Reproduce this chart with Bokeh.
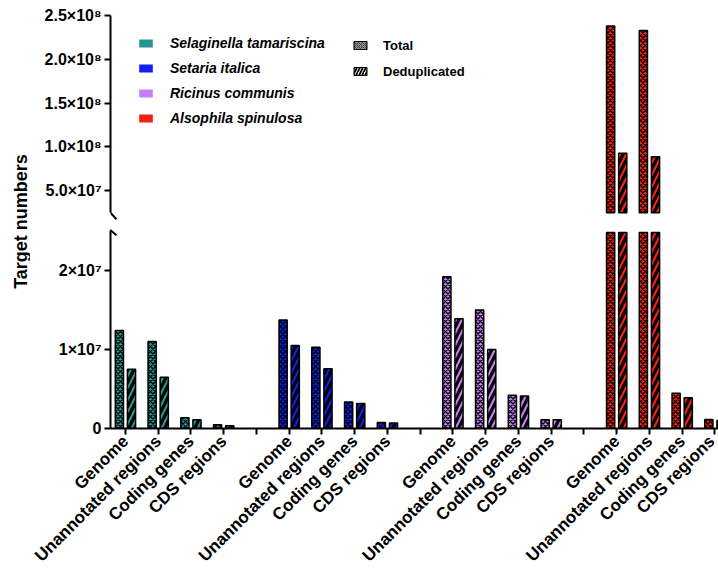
import math
from bokeh.plotting import figure
from bokeh.models import (ColumnDataSource, FixedTicker, Legend, LegendItem, Label,
                          Range1d, CDSView, BooleanFilter)
from bokeh.transform import dodge
from bokeh.layouts import row, column
from bokeh.embed import file_html
from bokeh.resources import INLINE

# ---------------- data ----------------
species = ["Selaginella tamariscina", "Setaria italica", "Ricinus communis", "Alsophila spinulosa"]
regions = ["Genome", "Unannotated regions", "Coding genes", "CDS regions"]
colors = ["#23968e", "#0f1ff0", "#c67ef4", "#f8200f"]

total_selaginella = [1.24e7, 1.10e7, 1.35e6, 4.7e5]
dedup_selaginella = [7.5e6, 6.5e6, 1.1e6, 3.5e5]
total_setaria = [1.375e7, 1.03e7, 3.35e6, 7.5e5]
dedup_setaria = [1.05e7, 7.55e6, 3.15e6, 7.0e5]
total_ricinus = [1.92e7, 1.50e7, 4.2e6, 1.1e6]
dedup_ricinus = [1.39e7, 1.00e7, 4.1e6, 1.1e6]
total_alsophila = [2.38e8, 2.33e8, 4.45e6, 1.15e6]
dedup_alsophila = [9.3e7, 8.9e7, 3.9e6, 1.0e6]

totals = [total_selaginella, total_setaria, total_ricinus, total_alsophila]
dedups = [dedup_selaginella, dedup_setaria, dedup_ricinus, dedup_alsophila]

upper_ticks = [5e7, 1e8, 1.5e8, 2e8, 2.5e8]
upper_tick_labels = ["5.0×10⁷", "1.0×10⁸", "1.5×10⁸", "2.0×10⁸", "2.5×10⁸"]
lower_ticks = [0, 1e7, 2e7]
lower_tick_labels = ["0", "1×10⁷", "2×10⁷"]

pattern_names = ["Total", "Deduplicated"]

# axis-break settings (data units)
upper_break = 2.5e7
upper_axis_top = 2.5e8
lower_break = 2.48e7
lower_axis_top = 2.51e7

# ---------------- geometry ----------------
FONT = "Liberation Sans"
TITLE_W = 30
MAIN_W = 688
BORDER_L = 80
UP_TOP, UP_FRAME = 15, 206
LO_TOP, LO_FRAME, LO_BOT = 3, 204, 150
TOTAL_H = UP_TOP + UP_FRAME + LO_TOP + LO_FRAME + LO_BOT

slot = len(regions) + 1
n_slots = slot * len(species) - 1
xticks = list(range(n_slots))

x_range = Range1d(-0.456, 18.109)
upper_yr = Range1d(1.5e7, 2.5e8)
lower_yr = Range1d(0, 2.5823e7)

px_x = (MAIN_W - BORDER_L) / (x_range.end - x_range.start)
px_up = UP_FRAME / (upper_yr.end - upper_yr.start)
px_lo = LO_FRAME / (lower_yr.end - lower_yr.start)


def base_fig(height, yr, top, bottom, **kw):
    p = figure(width=MAIN_W, height=height, x_range=x_range, y_range=yr,
               output_backend="svg", toolbar_location=None,
               min_border_left=BORDER_L, min_border_right=0,
               min_border_top=top, min_border_bottom=bottom, **kw)
    p.grid.visible = False
    p.outline_line_color = None
    for ax in p.axis:
        ax.axis_line_width = 2
        ax.axis_line_color = "black"
        ax.major_tick_line_width = 2
        ax.major_tick_line_color = "black"
        ax.major_tick_out = 6
        ax.major_tick_in = 0
        ax.minor_tick_line_color = None
        ax.major_label_text_font = FONT
        ax.major_label_text_font_style = "bold"
        ax.major_label_text_font_size = "16px"
        ax.major_label_text_color = "black"
        ax.major_label_standoff = 3
    return p


upper = base_fig(UP_TOP + UP_FRAME, upper_yr, UP_TOP, 0, x_axis_location=None)
lower = base_fig(LO_TOP + LO_FRAME + LO_BOT, lower_yr, LO_TOP, LO_BOT)

upper.yaxis.bounds = (upper_break, upper_axis_top)
upper.yaxis.ticker = FixedTicker(ticks=upper_ticks)
upper.yaxis.major_label_overrides = dict(zip(upper_ticks, upper_tick_labels))

lower.yaxis.bounds = (0, lower_axis_top)
lower.yaxis.ticker = FixedTicker(ticks=lower_ticks)
lower.yaxis.major_label_overrides = dict(zip(lower_ticks, lower_tick_labels))

xlabels = {}
for gi in range(len(species)):
    for ri, reg in enumerate(regions):
        xlabels[gi * slot + ri] = reg
for t in xticks:
    xlabels.setdefault(t, "")
lower.xaxis.ticker = FixedTicker(ticks=xticks)
lower.xaxis.major_label_overrides = xlabels
lower.xaxis.major_label_orientation = math.pi / 4
lower.xaxis.major_label_text_font_size = "17px"
lower.xaxis.major_label_standoff = 4

# ---------------- axis break marks ----------------
S = dict(line_width=2, line_color="black")
dx = 6 / px_x
upper.segment(x0=[x_range.start - dx], y0=[upper_break + 6.5 / px_up],
              x1=[x_range.start + dx], y1=[upper_break - 6.5 / px_up], **S)
lower.segment(x0=[x_range.start - dx], y0=[lower_axis_top + 5 / px_lo],
              x1=[x_range.start + dx], y1=[lower_axis_top - 5 / px_lo], **S)

# ---------------- bars ----------------
tot_style = dict(line_color="black", line_width=1.5, hatch_pattern="x", hatch_color="black",
                 hatch_scale=5, hatch_weight=1.4)
ded_style = dict(line_color="black", line_width=1.5, hatch_pattern="/", hatch_color="black",
                 hatch_scale=12, hatch_weight=3.2)
for gi, sp in enumerate(species):
    src = ColumnDataSource(dict(
        x=[gi * slot + ri for ri in range(len(regions))],
        total=totals[gi],
        dedup=dedups[gi],
        total_low=[min(v, lower_break) for v in totals[gi]],
        dedup_low=[min(v, lower_break) for v in dedups[gi]],
    ))
    lower.vbar(x=dodge("x", -0.185), top="total_low", bottom=0, width=0.25, source=src,
               fill_color=colors[gi], **tot_style)
    lower.vbar(x=dodge("x", 0.185), top="dedup_low", bottom=0, width=0.25, source=src,
               fill_color=colors[gi], **ded_style)
    tv = CDSView(filter=BooleanFilter([v > upper_break for v in totals[gi]]))
    dv = CDSView(filter=BooleanFilter([v > upper_break for v in dedups[gi]]))
    upper.vbar(x=dodge("x", -0.185), top="total", bottom=upper_break, width=0.25, source=src,
               view=tv, fill_color=colors[gi], **tot_style)
    upper.vbar(x=dodge("x", 0.185), top="dedup", bottom=upper_break, width=0.25, source=src,
               view=dv, fill_color=colors[gi], **ded_style)

# ---------------- legends ----------------
nan = float("nan")
sp_items = []
for gi, sp in enumerate(species):
    r = upper.vbar(x=[nan], top=[nan], width=0.25, fill_color=colors[gi], line_color=None)
    sp_items.append(LegendItem(label=sp, renderers=[r]))
r_tot = upper.vbar(x=[nan], top=[nan], width=0.25, fill_color="#8c8c8c", line_color="black",
                   line_width=1.2, hatch_pattern="x", hatch_color="#444444",
                   hatch_scale=4, hatch_weight=1)
r_ded = upper.vbar(x=[nan], top=[nan], width=0.25, fill_color="white", line_color="black",
                   line_width=1.2, hatch_pattern="/", hatch_color="black",
                   hatch_scale=6, hatch_weight=1.8)
pat_items = [LegendItem(label=pattern_names[0], renderers=[r_tot]),
             LegendItem(label=pattern_names[1], renderers=[r_ded])]

frame_left = TITLE_W + BORDER_L
frame_bottom = UP_TOP + UP_FRAME
leg_species = Legend(items=sp_items, location=(137 - frame_left, frame_bottom - 128),
                     orientation="vertical",
                     glyph_width=17, glyph_height=10, label_height=20, label_standoff=16,
                     spacing=5, padding=0, margin=0, border_line_color=None,
                     background_fill_alpha=0, label_text_font=FONT,
                     label_text_font_style="bold italic", label_text_font_size="14px",
                     label_text_color="black")
leg_pattern = Legend(items=pat_items, location=(352 - frame_left, frame_bottom - 81),
                     orientation="vertical",
                     glyph_width=16, glyph_height=10, label_height=20, label_standoff=15,
                     spacing=6, padding=0, margin=0, border_line_color=None,
                     background_fill_alpha=0, label_text_font=FONT,
                     label_text_font_style="bold", label_text_font_size="13px",
                     label_text_color="black")
upper.add_layout(leg_species)
upper.add_layout(leg_pattern)

# ---------------- shared y-axis title ----------------
title_fig = figure(width=TITLE_W, height=TOTAL_H, x_range=Range1d(0, 1), y_range=Range1d(0, 1),
                   output_backend="svg", toolbar_location=None,
                   x_axis_location=None, y_axis_location=None, min_border=0)
title_fig.grid.visible = False
title_fig.outline_line_color = None
title_fig.add_layout(Label(x=20, y=TOTAL_H - 221, x_units="screen", y_units="screen",
                           text="Target numbers", angle=math.pi / 2,
                           text_align="center", text_baseline="middle",
                           text_font=FONT, text_font_style="bold",
                           text_font_size="18px", text_color="black"))

layout = row(title_fig, column(upper, lower))
open("out.html", "w").write(file_html(layout, INLINE))
